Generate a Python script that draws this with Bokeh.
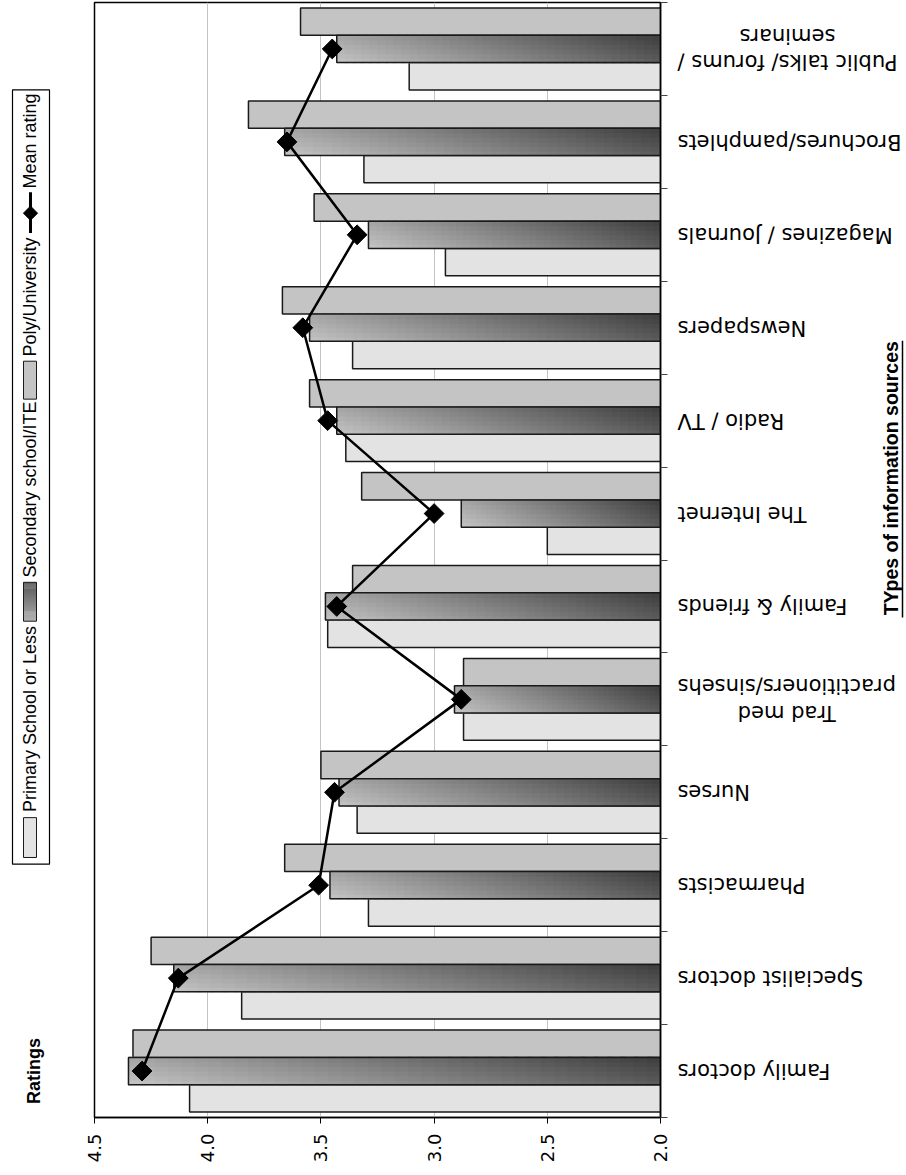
import math

from bokeh.core.properties import value
from bokeh.embed import file_html
from bokeh.layouts import row
from bokeh.models import FixedTicker, Grid, LinearAxis, PrintfTickFormatter, Range1d
from bokeh.plotting import figure
from bokeh.resources import INLINE

# ---------------------------------------------------------------- data
categories = [
    "Family doctors",
    "Specialist doctors",
    "Pharmacists",
    "Nurses",
    "Trad med\npractitioners/sinsehs",
    "Family & friends",
    "The Internet",
    "Radio / TV",
    "Newspapers",
    "Magazines / Journals",
    "Brochures/pamphlets",
    "Public talks/ forums /\nseminars",
]
primary = [4.08, 3.85, 3.29, 3.34, 2.87, 3.47, 2.50, 3.39, 3.36, 2.95, 3.31, 3.11]
secondary = [4.35, 4.15, 3.46, 3.42, 2.91, 3.48, 2.88, 3.43, 3.55, 3.29, 3.66, 3.43]
poly = [4.33, 4.25, 3.66, 3.50, 2.87, 3.36, 3.32, 3.55, 3.67, 3.53, 3.82, 3.59]
mean_rating = [4.29, 4.13, 3.51, 3.44, 2.88, 3.43, 3.00, 3.47, 3.58, 3.34, 3.65, 3.45]

series_names = ["Primary School or Less", "Secondary school/ITE", "Poly/University"]
mean_name = "Mean rating"
value_ticks = [2.0, 2.5, 3.0, 3.5, 4.0, 4.5]
value_title = "Ratings"
category_title = "TYpes of information sources"

# ---------------------------------------------------------------- styling
H = 1175
LEFT_W, MAIN_W, RIGHT_W = 80, 595, 231
TOP, BOTTOM = 2, 58
V_MIN, V_MAX = 2.0, 4.5
BAR_H = 0.294

LABEL_FONT_NAME = "DejaVu Sans"
LABEL_FONT = value(LABEL_FONT_NAME)
PLAIN_FONT = value("Liberation Sans")
PRIMARY_FILL = "#e3e3e3"
POLY_FILL = "#c4c4c4"
GRAD_LIGHT = (0xd0, 0xd0, 0xd0)
GRAD_DARK = (0x40, 0x40, 0x40)
EDGE = "#1a1a1a"
N_SLICES = 40
N_STRIPS = 6


def blend(t):
    t = min(max(t, 0.0), 1.0)
    c = [round(a + (b - a) * t) for a, b in zip(GRAD_LIGHT, GRAD_DARK)]
    return "#%02x%02x%02x" % tuple(c)


def shade(tx, ty):
    # diagonal shading: darker toward the baseline end and the upper edge
    return blend(0.08 + 0.72 * tx + 0.22 * ty)


n = len(categories)
centers = [i + 0.5 for i in range(n)]

# ---------------------------------------------------------------- main plot
p = figure(
    width=MAIN_W, height=H,
    x_range=Range1d(V_MAX, V_MIN), y_range=Range1d(0, n),
    x_axis_type=None, y_axis_type=None,
    min_border_left=14, min_border_right=15,
    min_border_top=TOP, min_border_bottom=BOTTOM,
    toolbar_location=None, output_backend="svg",
    background_fill_color="white", border_fill_color="white",
)
p.outline_line_color = "black"
p.outline_line_width = 1.5

p.add_layout(Grid(dimension=0, ticker=FixedTicker(ticks=value_ticks),
                  grid_line_color="#c4c4c4", grid_line_width=1))

y_poly = [c + BAR_H for c in centers]
y_sec = centers
y_prim = [c - BAR_H for c in centers]

p.hbar(y=y_prim, left=primary, right=V_MIN, height=BAR_H,
       fill_color=PRIMARY_FILL, line_color=EDGE, line_width=1.5)
p.hbar(y=y_poly, left=poly, right=V_MIN, height=BAR_H,
       fill_color=POLY_FILL, line_color=EDGE, line_width=1.5)

# secondary bars: shaded cells, light at the value end, dark at the baseline end
strip_h = BAR_H / N_STRIPS
g_y, g_l, g_r, g_c = [], [], [], []
for yc, v in zip(y_sec, secondary):
    span = V_MIN - v
    for k in range(N_STRIPS):
        ys = yc - BAR_H / 2 + (k + 0.5) * strip_h
        ty = (k + 0.5) / N_STRIPS
        for j in range(N_SLICES):
            g_y.append(ys)
            g_l.append(v + span * j / N_SLICES)
            # slight overlap with the next cell hides anti-aliasing seams
            g_r.append(v + span * min(j + 1.35, N_SLICES) / N_SLICES)
            g_c.append(shade((j + 0.5) / N_SLICES, ty))
p.hbar(y=g_y, left=g_l, right=g_r, height=strip_h * 1.25, fill_color=g_c, line_color=None)
p.hbar(y=y_sec, left=secondary, right=V_MIN, height=BAR_H,
       fill_color=None, line_color=EDGE, line_width=1.5)

p.line(x=mean_rating, y=centers, line_color="black", line_width=2.5)
p.scatter(x=mean_rating, y=centers, marker="square", angle=math.pi / 4,
          size=14, fill_color="black", line_color="black")

x_axis = LinearAxis(
    ticker=FixedTicker(ticks=value_ticks),
    formatter=PrintfTickFormatter(format="%.1f"),
    major_label_orientation=math.pi / 2,
    major_label_text_font=LABEL_FONT_NAME,
    major_label_text_font_size="18px",
    major_label_text_color="black",
    major_label_standoff=10,
    major_tick_in=0, major_tick_out=6,
    minor_tick_in=0, minor_tick_out=0,
    axis_line_color="black", axis_line_width=1.5,
    major_tick_line_color="black",
)
p.add_layout(x_axis, "below")

# tick marks between the categories (labels are drawn separately)
cat_axis = LinearAxis(
    ticker=FixedTicker(ticks=list(range(n + 1))),
    major_label_text_font_size="1px",
    major_label_text_color=None,
    major_label_standoff=0,
    major_tick_in=0, major_tick_out=7,
    minor_tick_in=0, minor_tick_out=0,
    axis_line_color="black", axis_line_width=1.5,
    major_tick_line_color="#444444",
)
p.add_layout(cat_axis, "right")

# ---------------------------------------------------------------- category labels
r = figure(
    width=RIGHT_W, height=H,
    x_range=Range1d(0, RIGHT_W), y_range=p.y_range,
    x_axis_type=None, y_axis_type=None,
    min_border_left=0, min_border_right=0,
    min_border_top=TOP, min_border_bottom=BOTTOM,
    toolbar_location=None, output_backend="svg",
    outline_line_color=None,
)
r.text(x=[2] * n, y=centers, text=categories, angle=math.pi,
       anchor="center_right", text_align="center", text_baseline="middle",
       text_font=LABEL_FONT, text_font_size="21px", text_color="black",
       text_line_height=1.1)

TITLE_Y = 6.88
r.text(x=[215], y=[TITLE_Y], text=[category_title], angle=math.pi / 2,
       text_align="center", text_baseline="middle",
       text_font=PLAIN_FONT, text_font_style="bold", text_font_size="19.5px",
       text_color="black")
r.segment(x0=[227], x1=[227], y0=[8.36], y1=[5.38], line_color="black", line_width=1.5)

# ---------------------------------------------------------------- legend and value title
lg = figure(
    width=LEFT_W, height=H,
    x_range=Range1d(0, LEFT_W), y_range=Range1d(H, 0),
    x_axis_type=None, y_axis_type=None, min_border=0,
    toolbar_location=None, output_backend="svg",
    outline_line_color=None,
)
lg.quad(left=[12], right=[49], top=[92], bottom=[908],
        fill_color="white", line_color="black", line_width=1.2)

KX0, KX1 = 23, 36
keys = [(859, 901), (611, 652), (378, 418)]
text_starts = [853, 606, 373]
TEXT_X = 29

# primary / poly keys
for (k0, k1), fill in [(keys[0], PRIMARY_FILL), (keys[2], POLY_FILL)]:
    lg.quad(left=[KX0], right=[KX1], top=[k0], bottom=[k1],
            fill_color=fill, line_color=EDGE, line_width=1)

# secondary key, shaded along its length
k0, k1 = keys[1]
ks = [k0 + (k1 - k0) * j / N_SLICES for j in range(N_SLICES + 1)]
lg.quad(left=[KX0] * N_SLICES, right=[KX1] * N_SLICES, top=ks[:-1],
        bottom=[min(b + 0.4, k1) for b in ks[1:]],
        fill_color=[blend(0.85 - 0.6 * (j + 0.5) / N_SLICES) for j in range(N_SLICES)],
        line_color=None)
lg.quad(left=[KX0], right=[KX1], top=[k0], bottom=[k1],
        fill_color=None, line_color=EDGE, line_width=1)

lg.text(x=[TEXT_X] * 3, y=text_starts, text=series_names, angle=math.pi / 2,
        text_align="left", text_baseline="middle",
        text_font=PLAIN_FONT, text_font_size="18px", text_color="black")

lg.segment(x0=[30], x1=[30], y0=[200], y1=[243], line_color="black", line_width=3)
lg.scatter(x=[30], y=[222], marker="square", angle=math.pi / 4, size=10,
           fill_color="black", line_color="black")
lg.text(x=[TEXT_X], y=[196], text=[mean_name], angle=math.pi / 2,
        text_align="left", text_baseline="middle",
        text_font=PLAIN_FONT, text_font_size="18px", text_color="black")

lg.text(x=[33], y=[1126], text=[value_title], angle=math.pi / 2,
        text_align="center", text_baseline="middle",
        text_font=PLAIN_FONT, text_font_style="bold", text_font_size="18px",
        text_color="black")

layout = row(lg, p, r, spacing=0)

with open("out.html", "w") as f:
    f.write(file_html(layout, INLINE))
